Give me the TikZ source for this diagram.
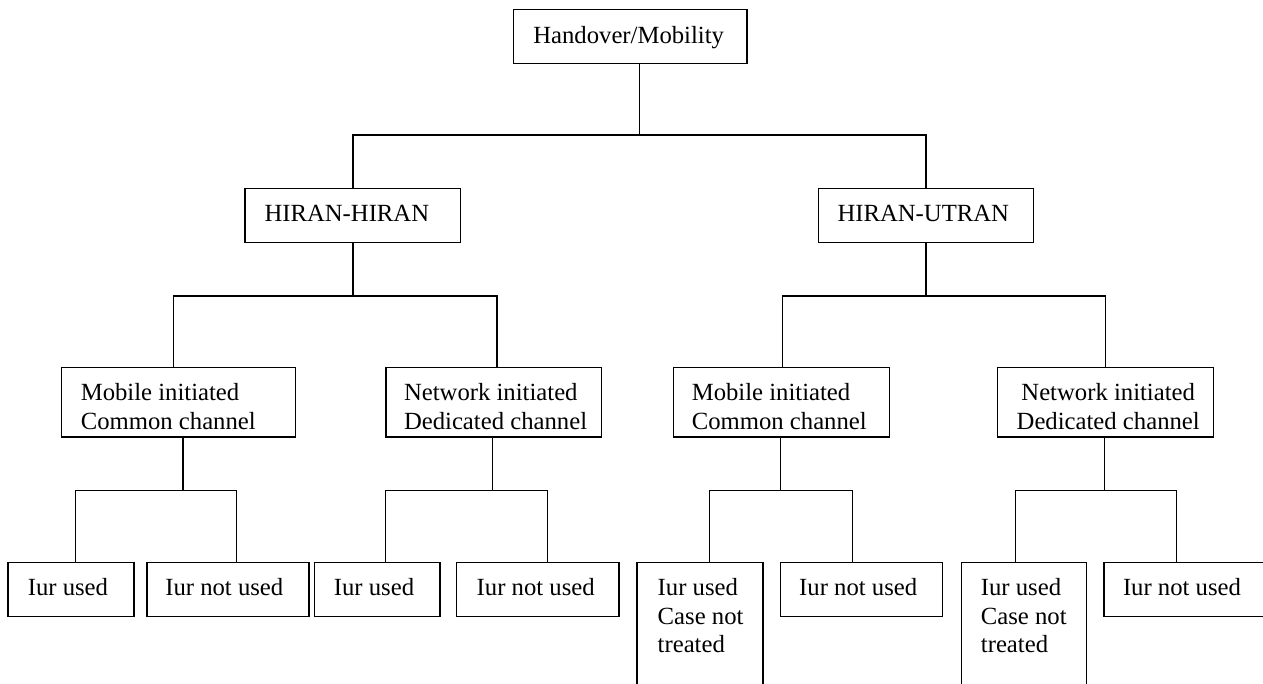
\documentclass[tikz,border=0pt]{standalone}
\usepackage{fontspec}
\setmainfont{Liberation Serif}
\usetikzlibrary{calc}

\tikzset{
  box/.style={draw, line width=1.5pt, inner sep=0pt, outer sep=0pt,
              anchor=north west, minimum height=54pt},
  tallbox/.style={box, minimum height=69.7pt},
  deepbox/.style={box, minimum height=140pt},
  txt/.style={anchor=base west, inner sep=0pt, outer sep=0pt,
              font=\fontsize{24.7}{28.6}\selectfont},
  link/.style={line width=1.5pt}
}

\begin{document}
\begin{tikzpicture}[x=1pt, y=-1pt]
\useasboundingbox (0,0) rectangle (1263,683);
\clip (0,0) rectangle (1263,683);

% root
\node[box, minimum width=233.3pt] (T) at (513.7,9.3) {};
\node[txt] (tT) at (533.3,43.3) {Handover/Mobility};

% second level
\node[box, minimum width=215.7pt] (HH) at (245,188.3) {};
\node[txt] (tHH) at (264.5,221.7) {HIRAN-HIRAN};
\node[box, minimum width=215.4pt] (HU) at (818.3,188.3) {};
\node[txt] (tHU) at (837.5,221.7) {HIRAN-UTRAN};

% third level
\node[tallbox, minimum width=234.1pt] (ML) at (61.6,367.3) {};
\node[txt] (tML) at (80.8,400.7) {\begin{tabular}[t]{@{}l@{}}Mobile initiated\\Common channel\end{tabular}};
\node[tallbox, minimum width=215.7pt] (NL) at (386,367.3) {};
\node[txt] (tNL) at (404,400.7) {\begin{tabular}[t]{@{}l@{}}Network initiated\\Dedicated channel\end{tabular}};
\node[tallbox, minimum width=216pt] (MR) at (673.3,367.3) {};
\node[txt] (tMR) at (691.8,400.7) {\begin{tabular}[t]{@{}l@{}}Mobile initiated\\Common channel\end{tabular}};
\node[tallbox, minimum width=215.7pt] (NR) at (997.7,367.3) {};
\node[txt, anchor=base] (tNR) at (1108.2,400.7) {\begin{tabular}[t]{@{}c@{}}Network initiated\\Dedicated channel\end{tabular}};

% leaves
\node[box, minimum width=125.7pt] (B1) at (8.2,562.3) {};
\node[txt] (tB1) at (27.8,595.7) {Iur used};
\node[box, minimum width=162pt] (B2) at (147,562.3) {};
\node[txt] (tB2) at (165.3,595.7) {Iur not used};
\node[box, minimum width=125.7pt] (B3) at (314.3,562.3) {};
\node[txt] (tB3) at (333.9,595.7) {Iur used};
\node[box, minimum width=162.9pt] (B4) at (456.3,562.3) {};
\node[txt] (tB4) at (476.7,595.7) {Iur not used};
\node[deepbox, minimum width=125.9pt] (B5) at (637.2,562.3) {};
\node[txt] (tB5) at (657.7,595.7) {\begin{tabular}[t]{@{}l@{}}Iur used\\Case not\\treated\end{tabular}};
\node[box, minimum width=161.6pt] (B6) at (780.7,562.3) {};
\node[txt] (tB6) at (799.2,595.7) {Iur not used};
\node[deepbox, minimum width=125.1pt] (B7) at (961.6,562.3) {};
\node[txt] (tB7) at (980.9,595.7) {\begin{tabular}[t]{@{}l@{}}Iur used\\Case not\\treated\end{tabular}};
\node[box, minimum width=171pt] (B8) at (1104,562.3) {};
\node[txt] (tB8) at (1123,595.7) {Iur not used};

% root -> second level
\draw[link] ($(T.south)+(9,0)$) -- ++(0,71.7) coordinate (j0);
\draw[link] (HH.north) |- (j0) -| (HU.north);

% HIRAN-HIRAN -> third level
\draw[link] (HH.south) -- ++(0,53.7) coordinate (j1);
\draw[link] ($(ML.north)+(-5.3,0)$) |- (j1) -| ($(NL.north)+(2.9,0)$);

% HIRAN-UTRAN -> third level
\draw[link] (HU.south) -- ++(0,53.7) coordinate (j2);
\draw[link] ($(MR.north)+(1.4,0)$) |- (j2) -| (NR.north);

% third level -> leaves
\draw[link] ($(ML.south)+(4.3,0)$) -- ++(0,53.7) coordinate (j3);
\draw[link] ($(B1.north)+(4.4,0)$) |- (j3) -| ($(B2.north)+(8.7,0)$);

\draw[link] ($(NL.south)+(-1.2,0)$) -- ++(0,53.7) coordinate (j4);
\draw[link] ($(B3.north)+(8.5,0)$) |- (j4) -| ($(B4.north)+(9.5,0)$);

\draw[link] ($(MR.south)+(-0.6,0)$) -- ++(0,53.7) coordinate (j5);
\draw[link] ($(B5.north)+(9.2,0)$) |- (j5) -| ($(B6.north)+(-9,0)$);

\draw[link] ($(NR.south)+(-1.2,0)$) -- ++(0,53.7) coordinate (j6);
\draw[link] ($(B7.north)+(-8.8,0)$) |- (j6) -| ($(B8.north)+(-12.8,0)$);
\end{tikzpicture}
\end{document}
